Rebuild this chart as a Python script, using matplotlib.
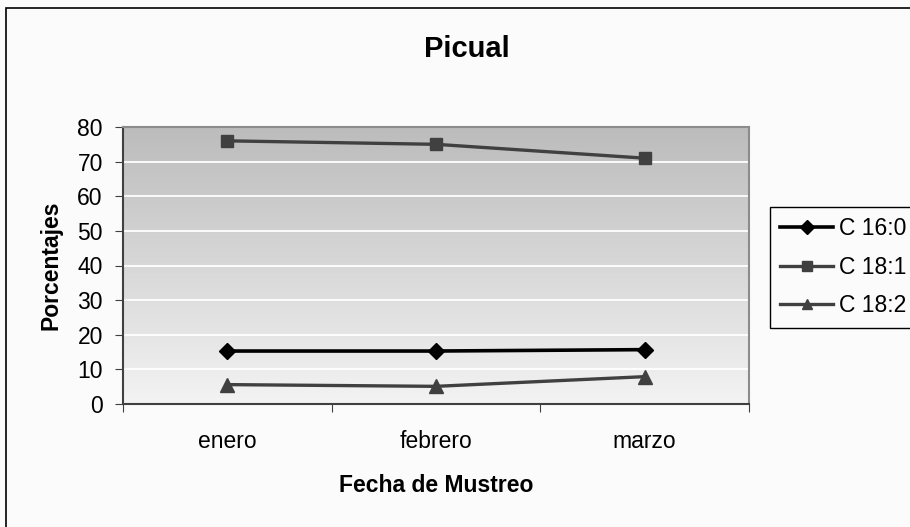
import numpy as np
import matplotlib
matplotlib.use("Agg")
import matplotlib.pyplot as plt
from matplotlib.patches import Rectangle
from matplotlib.colors import LinearSegmentedColormap

plt.rcParams['font.family'] = ['Liberation Sans', 'DejaVu Sans']

meses = ["enero", "febrero", "marzo"]
c16_0 = [15.3, 15.3, 15.7]
c18_1 = [76.0, 75.0, 71.0]
c18_2 = [5.6, 5.1, 7.9]
y_ticks = [0, 10, 20, 30, 40, 50, 60, 70, 80]

FS = 16.5

fig = plt.figure(figsize=(9.1, 5.27), dpi=100)
fig.patch.set_facecolor("#fbfbfb")
# marco exterior del grafico
fig.patches.append(Rectangle((6 / 910, -0.05), 1.1, 1 - 8 / 527 + 0.05,
                             transform=fig.transFigure, fill=False,
                             edgecolor="black", linewidth=1.2))

ax = fig.add_axes([123 / 910, 1 - 404 / 527, 626 / 910, 277 / 527])

# fondo degradado gris
grad = np.linspace(0, 1, 256).reshape(-1, 1)
cmap = LinearSegmentedColormap.from_list("g", ["#f3f3f3", "#bcbcbc"])
ax.imshow(grad, cmap=cmap, origin="lower", aspect="auto",
          extent=[0, 1, 0, 1], transform=ax.transAxes, zorder=0)
for v in y_ticks[1:-1]:
    ax.axhline(v, color="white", lw=1.3, zorder=1)

x = np.arange(len(meses))
ax.plot(x, c16_0, color="black", lw=2.6, marker="D", ms=8, label="C 16:0", zorder=3)
ax.plot(x, c18_1, color="#404040", lw=2.4, marker="s", ms=8, label="C 18:1", zorder=3)
ax.plot(x, c18_2, color="#404040", lw=2.4, marker="^", ms=9.5, label="C 18:2", zorder=3)

ax.set_xlim(-0.5, 2.5)
ax.set_ylim(0, 80)
ax.set_yticks(y_ticks)
ax.set_yticklabels([str(v) for v in y_ticks], fontsize=FS)
ax.set_xticks([-0.5, 0.5, 1.5, 2.5])
ax.set_xticklabels([])
ax.set_xticks(x, minor=True)
ax.set_xticklabels(meses, minor=True, fontsize=FS)
ax.tick_params(axis="x", which="minor", length=0, pad=19)
ax.tick_params(axis="x", which="major", length=6, direction="out", color="#404040")
ax.tick_params(axis="y", length=6, direction="out", color="#404040", pad=8.5)

for s in ["top", "right"]:
    ax.spines[s].set_color("#8c8c8c")
    ax.spines[s].set_linewidth(1.5)
for s in ["left", "bottom"]:
    ax.spines[s].set_color("#404040")
    ax.spines[s].set_linewidth(1.5)

ax.set_ylabel("Porcentajes", fontsize=FS, fontweight="bold", labelpad=11)
ax.set_xlabel("Fecha de Mustreo", fontsize=FS, fontweight="bold", labelpad=15)
fig.text(467 / 910, 1 - 57 / 527, "Picual", fontsize=21, fontweight="bold",
         ha="center", va="baseline")

leg = ax.legend(loc="upper left", bbox_to_anchor=(770 / 910, 1 - 207 / 527),
                bbox_transform=fig.transFigure, fontsize=FS, frameon=True,
                fancybox=False, edgecolor="black", facecolor="#fbfbfb",
                framealpha=1, handlelength=2.3, handletextpad=0.25,
                borderaxespad=0, borderpad=0.45, labelspacing=0.68)
leg.get_frame().set_linewidth(1.0)
for h in leg.legend_handles:
    h.set_markersize(7)

fig.savefig("out.png", dpi=100)
